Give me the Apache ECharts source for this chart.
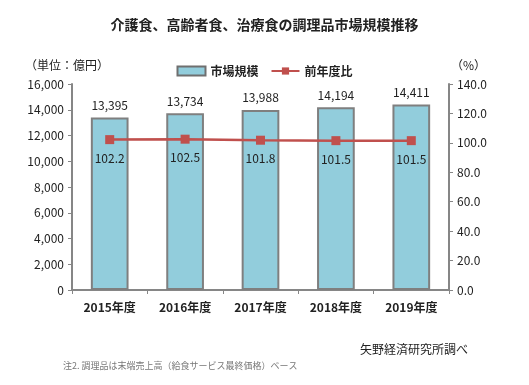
<!DOCTYPE html>
<html><head><meta charset="utf-8">
<script src="https://cdn.jsdelivr.net/npm/echarts@6/dist/echarts.min.js"></script>
<style>html,body{margin:0;padding:0;background:#fff}#c{width:529px;height:385px}</style>
</head><body><div id="c"></div>
<script>
const categories = ['2015年度','2016年度','2017年度','2018年度','2019年度'];
const marketSize = [13395, 13734, 13988, 14194, 14411];
const yoy = [102.2, 102.5, 101.8, 101.5, 101.5];
const font = '"Noto Sans CJK JP", sans-serif';
const chart = echarts.init(document.getElementById('c'));
chart.setOption({
  animation: false,
  backgroundColor: '#fff',
  textStyle: {fontFamily: font},
  title: [
    {text: '介護食、高齢者食、治療食の調理品市場規模推移', left: 'center', top: 13,
     textStyle: {fontSize: 14, fontWeight: 'bold', color: '#222', fontFamily: font}},
    {text: '（単位：億円）', left: 20, top: 54, textStyle: {fontSize: 12, fontWeight: 'normal', color: '#222', fontFamily: font}},
    {text: '（%）', left: 446, top: 54, textStyle: {fontSize: 12, fontWeight: 'normal', color: '#222', fontFamily: font}},
    {text: '矢野経済研究所調べ', right: 56, top: 338, textStyle: {fontSize: 12, fontWeight: 'normal', color: '#222', fontFamily: font}},
    {text: '注2. 調理品は末端売上高（給食サービス最終価格）ベース', left: 58, top: 356, textStyle: {fontSize: 9, fontWeight: 'normal', color: '#777', fontFamily: font}}
  ],
  legend: {
    top: 60, left: 'center', itemGap: 12, itemWidth: 28, itemHeight: 9,
    textStyle: {fontSize: 12, fontWeight: 'bold', color: '#222', fontFamily: font},
    data: [
      {name: '市場規模', icon: 'rect', itemStyle: {color: '#92CDDC', borderColor: '#6f6f6f', borderWidth: 2}},
      {name: '前年度比'}
    ]
  },
  grid: {left: 72, right: 80, top: 84, bottom: 95},
  xAxis: {
    type: 'category', data: categories,
    axisLine: {lineStyle: {color: '#868686', width: 2}},
    axisTick: {show: true, lineStyle: {color: '#868686'}, length: 4},
    axisLabel: {fontSize: 12, fontWeight: 'bold', color: '#222', margin: 11}
  },
  yAxis: [
    {type: 'value', min: 0, max: 16000, interval: 2000,
     axisLine: {show: true, lineStyle: {color: '#868686', width: 2}},
     axisTick: {show: true, length: 4, lineStyle: {color: '#868686'}},
     splitLine: {show: false},
     axisLabel: {fontSize: 12, color: '#222', margin: 8,
       formatter: v => v.toLocaleString('en-US')}},
    {type: 'value', min: 0, max: 140, interval: 20,
     axisLine: {show: true, lineStyle: {color: '#868686', width: 2}},
     axisTick: {show: true, length: 4, lineStyle: {color: '#868686'}},
     splitLine: {show: false},
     axisLabel: {fontSize: 12, color: '#222', margin: 8, formatter: v => v.toFixed(1)}}
  ],
  series: [
    {name: '市場規模', type: 'bar', data: marketSize, barWidth: '50%',
     itemStyle: {color: '#92CDDC', borderColor: '#7f7f7f', borderWidth: 2},
     label: {show: true, position: 'top', fontSize: 12, color: '#222', distance: 6,
       formatter: p => p.value.toLocaleString('en-US')}},
    {name: '前年度比', type: 'line', yAxisIndex: 1, data: yoy,
     symbol: 'rect', symbolSize: 9,
     lineStyle: {color: '#C0504D', width: 2.5},
     itemStyle: {color: '#C0504D'},
     label: {show: true, position: 'bottom', fontSize: 12, color: '#222', distance: 8,
       formatter: p => p.value.toFixed(1)}}
  ]
});
</script></body></html>
